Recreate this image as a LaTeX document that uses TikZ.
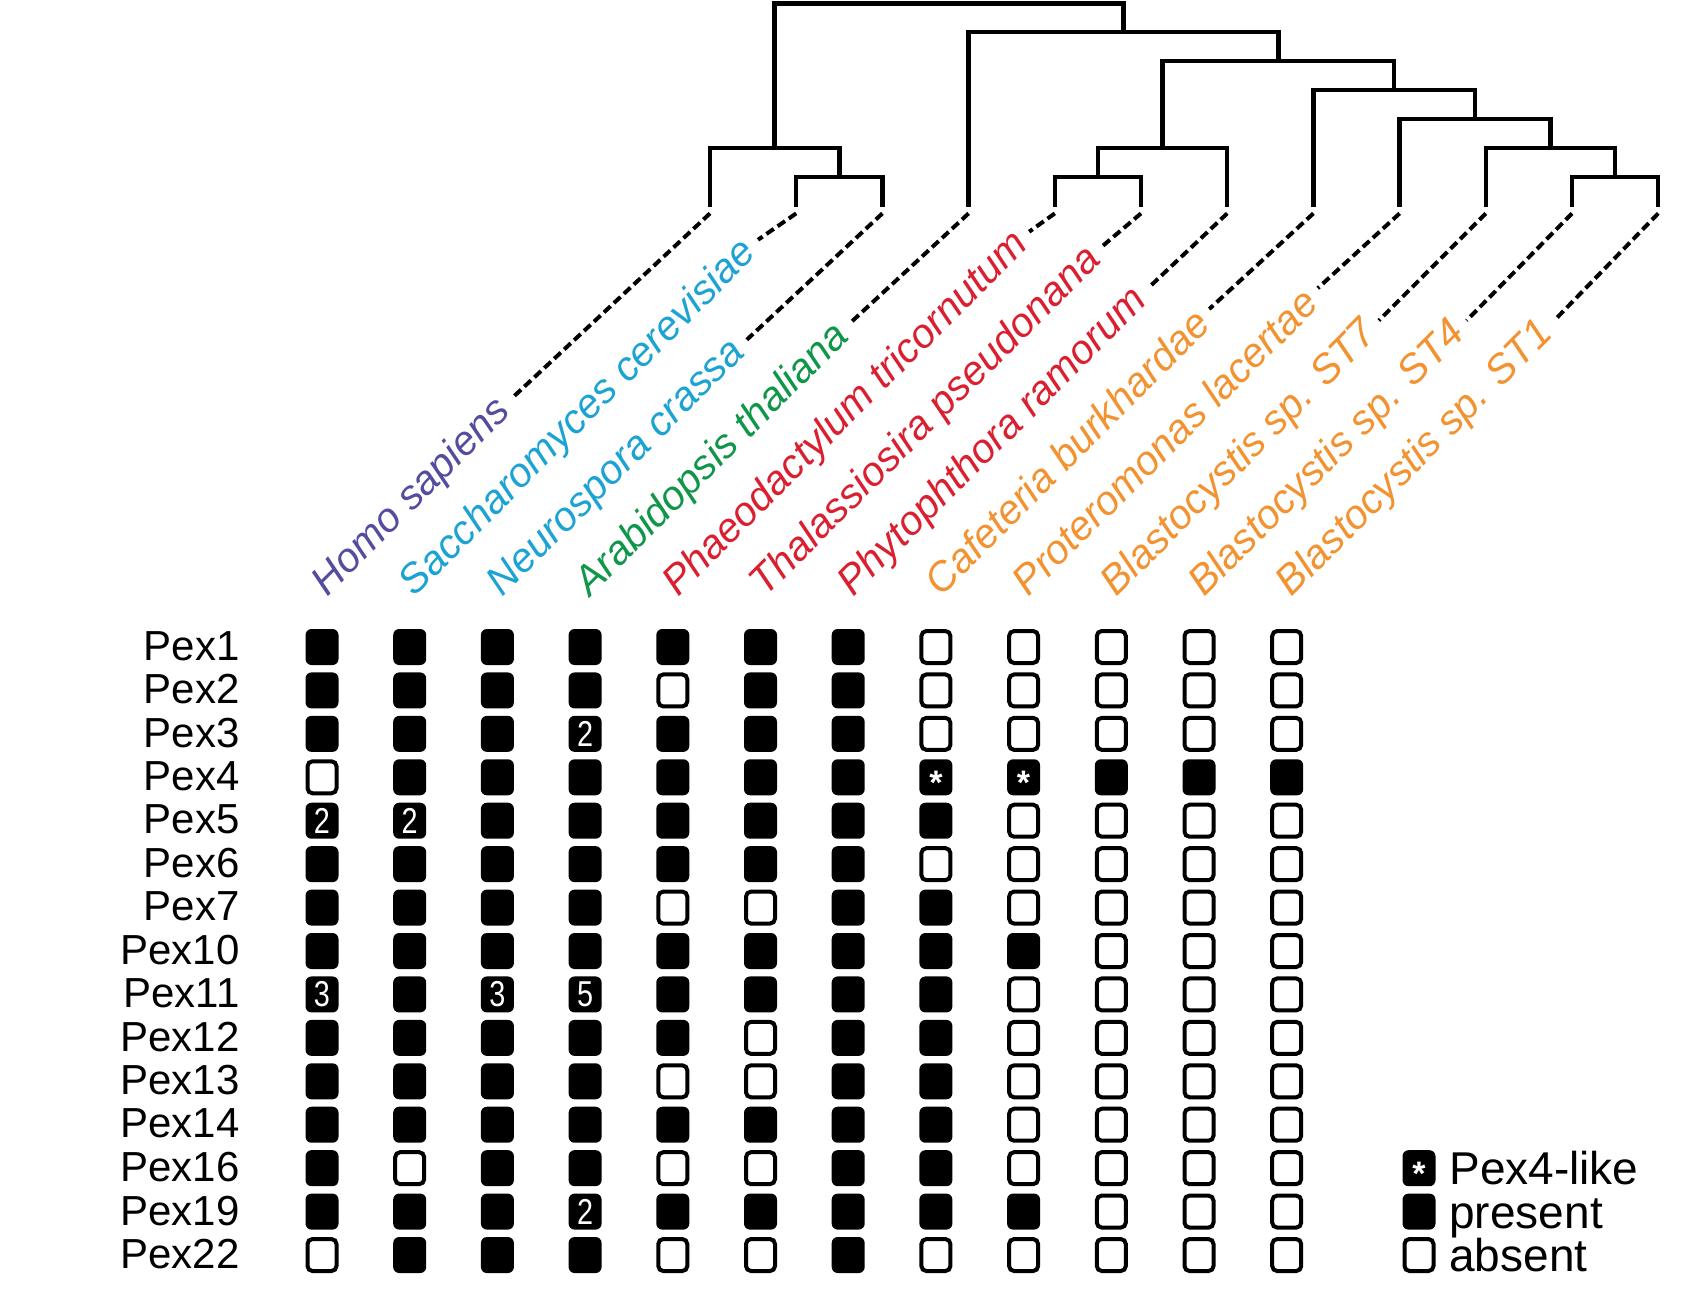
\documentclass[tikz,border=0pt]{standalone}
\usepackage{fontspec}
\setmainfont{Liberation Sans}
\usetikzlibrary{calc}

\definecolor{human}{RGB}{84,76,158}
\definecolor{fungi}{RGB}{28,163,212}
\definecolor{plant}{RGB}{16,150,72}
\definecolor{sar}{RGB}{218,32,48}
\definecolor{stram}{RGB}{242,146,48}

\newcommand\taxfont{\fontsize{20.4}{24}\selectfont\itshape}
\newcommand\pexfont{\fontsize{21}{25}\selectfont}
\newcommand\keyfont{\fontsize{23}{27}\selectfont}
\newcommand\numfont{\fontsize{18}{21}\selectfont}

\begin{document}
\begin{tikzpicture}[x=0.5pt,y=-0.5pt,
  fullbox/.style={fill=black,rounded corners=3pt,minimum width=16.5pt,minimum height=18pt,inner sep=0pt},
  emptybox/.style={draw=black,line width=2pt,fill=white,rounded corners=2.5pt,minimum width=14.5pt,minimum height=16pt,inner sep=0pt},
  cell f/.style={fullbox},
  cell o/.style={emptybox},
  boxtext/.style={text=white,font=\numfont,inner sep=0pt,xscale=0.8},
  startext/.style={text=white,font=\fontsize{17}{20}\selectfont\bfseries,inner sep=0pt,yshift=-3pt},
  branch/.style={line width=2.2pt},
  twig/.style={line width=2pt,dash pattern=on 4.5pt off 2.3pt},
  taxon/.style={anchor=base west,rotate=45,inner sep=0pt,font=\taxfont}]
\useasboundingbox (0,0) rectangle (1693,1312);

% tree
\foreach \i in {1,...,12}
  \coordinate (l\i) at ({710+86.2*(\i-1)},207);
\coordinate (sn) at (839.3,177);
\coordinate (hf) at (774.65,148);
\coordinate (dia) at (1097.9,177);
\coordinate (sx3) at (1162.55,148);
\coordinate (bl41) at (1615.1,177);
\coordinate (bl7) at (1550.45,148);
\coordinate (pro) at (1475,119);
\coordinate (caf) at (1394.2,90);
\coordinate (sx) at (1278.4,61);
\coordinate (ara) at (1123.5,32);
\coordinate (root) at (949,3.5);

\draw[branch] (l2) |- (sn) -| (l3);
\draw[branch] (l1) |- (hf) -| (sn);
\draw[branch] (l5) |- (dia) -| (l6);
\draw[branch] (dia) |- (sx3) -| (l7);
\draw[branch] (l11) |- (bl41) -| (l12);
\draw[branch] (l10) |- (bl7) -| (bl41);
\draw[branch] (l9) |- (pro) -| (bl7);
\draw[branch] (l8) |- (caf) -| (pro);
\draw[branch] (sx3) |- (sx) -| (caf);
\draw[branch] (l4) |- (ara) -| (sx);
\draw[branch] (hf) |- (root) -| (ara);

% species
\foreach \name/\col [count=\k] in {Homo sapiens/human,Saccharomyces cerevisiae/fungi,
    Neurospora crassa/fungi,Arabidopsis thaliana/plant,Phaeodactylum tricornutum/sar,
    Thalassiosira pseudonana/sar,Phytophthora ramorum/sar,Cafeteria burkhardae/stram,
    Proteromonas lacertae/stram,Blastocystis sp. ST7/stram,Blastocystis sp. ST4/stram,
    Blastocystis sp. ST1/stram}
  \node[taxon,text=\col] (t\k) at ({327+87.7*(\k-1)},598) {\name};
\foreach \k in {1,...,12}
  \draw[twig] ([yshift=-3.2pt]l\k) -- ($(t\k.east)!-5pt!(t\k.west)$);

% presence grid
\foreach \pex/\cells [count=\r] in {
    Pex1/{f,f,f,f,f,f,f,o,o,o,o,o},
    Pex2/{f,f,f,f,o,f,f,o,o,o,o,o},
    Pex3/{f,f,f,f,f,f,f,o,o,o,o,o},
    Pex4/{o,f,f,f,f,f,f,f,f,f,f,f},
    Pex5/{f,f,f,f,f,f,f,f,o,o,o,o},
    Pex6/{f,f,f,f,f,f,f,o,o,o,o,o},
    Pex7/{f,f,f,f,o,o,f,f,o,o,o,o},
    Pex10/{f,f,f,f,f,f,f,f,f,o,o,o},
    Pex11/{f,f,f,f,f,f,f,f,o,o,o,o},
    Pex12/{f,f,f,f,f,o,f,f,o,o,o,o},
    Pex13/{f,f,f,f,o,o,f,f,o,o,o,o},
    Pex14/{f,f,f,f,f,f,f,f,o,o,o,o},
    Pex16/{f,o,f,f,o,o,f,f,o,o,o,o},
    Pex19/{f,f,f,f,f,f,f,f,f,o,o,o},
    Pex22/{o,f,f,f,o,o,f,o,o,o,o,o}}{
  \node[anchor=east,font=\pexfont,inner sep=0pt] (pex\r) at (240,{646+43.43*(\r-1)}) {\pex};
  \foreach \c [count=\k] in \cells
    \node[cell \c] (p\r-\k) at ({322+87.7*(\k-1)},{647+43.43*(\r-1)}) {};
}

% copy numbers and Pex4-like
\node[boxtext] at (p3-4) {2};
\node[boxtext] at (p5-1) {2};
\node[boxtext] at (p5-2) {2};
\node[boxtext] at (p9-1) {3};
\node[boxtext] at (p9-3) {3};
\node[boxtext] at (p9-4) {5};
\node[boxtext] at (p14-4) {2};
\node[startext] at (p4-8) {*};
\node[startext] at (p4-9) {*};

% key
\node[fullbox] (kstar) at (1419,1168.2) {};
\node[startext] at (kstar) {*};
\node[fullbox] (kfull) at (1419,1211.6) {};
\node[emptybox] (kempty) at (1419,1255) {};
\node[anchor=base west,font=\keyfont,inner sep=0pt] (lstar) at (1449,1184) {Pex4-like};
\node[anchor=base west,font=\keyfont,inner sep=0pt] (lfull) at (1449,1228) {present};
\node[anchor=base west,font=\keyfont,inner sep=0pt] (lempty) at (1449,1271) {absent};
\end{tikzpicture}
\end{document}
